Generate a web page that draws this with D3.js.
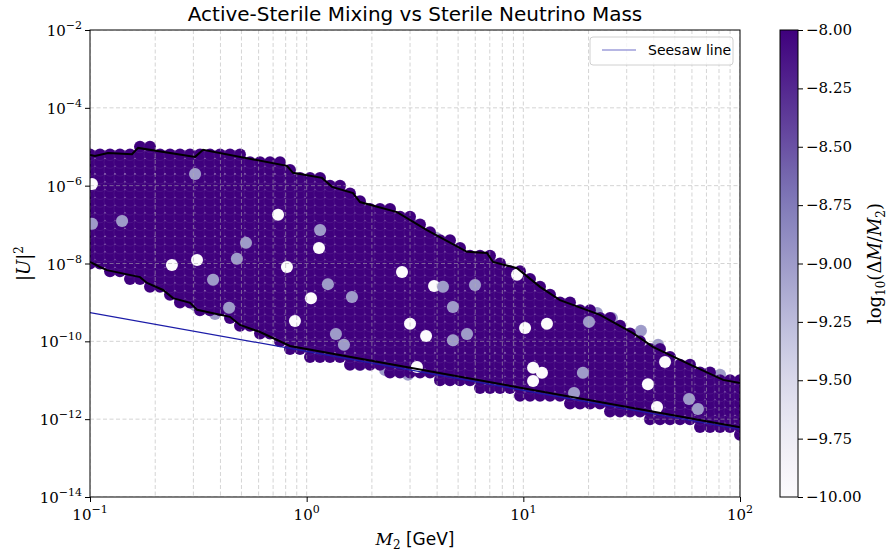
<!DOCTYPE html>
<html>
<head>
<meta charset="utf-8">
<script src="https://cdn.jsdelivr.net/npm/d3@7"></script>
<style>
body { margin: 0; background: #fff; }
</style>
</head>
<body>
<div id="canvas"></div>
<script>
// scan grid of sterile masses (GeV) and log10 |U|^2 rows
const massGrid = [0.1000,0.1112,0.1237,0.1375,0.1530,0.1701,0.1892,0.2104,0.2340,0.2602,
  0.2894,0.3218,0.3579,0.3981,0.4427,0.4924,0.5476,0.6090,0.6772,0.7531,
  0.8376,0.9315,1.0360,1.1521,1.2813,1.4250,1.5849,1.7626,1.9602,2.1800,
  2.4245,2.6963,2.9987,3.3349,3.7089,4.1248,4.5873,5.1017,5.6737,6.3096,
  7.0170,7.8040,8.6790,9.6520,10.734,11.938,13.277,14.765,16.421,18.262,
  20.309,22.587,25.119,27.936,31.067,34.551,38.425,42.733,47.525,52.854,
  58.780,65.370,72.700,80.850,89.910,100.00];
const logU2Grid = [-12.6,-12.4,-12.2,-12.0,-11.8,-11.6,-11.4,-11.2,-11.0,-10.8,
  -10.6,-10.4,-10.2,-10.0,-9.8,-9.6,-9.4,-9.2,-9.0,-8.8,-8.6,-8.4,-8.2,-8.0,
  -7.8,-7.6,-7.4,-7.2,-7.0,-6.8,-6.6,-6.4,-6.2,-6.0,-5.8,-5.6,-5.4,-5.2,-5.0];

// allowed band per mass column (log10 |U|^2)
const bandTop = [-5.21,-5.20,-5.16,-5.17,-5.19,-5.04,-5.07,-5.10,-5.14,-5.19,
  -5.24,-5.15,-5.12,-5.17,-5.21,-5.26,-5.31,-5.36,-5.40,-5.45,
  -5.62,-5.71,-5.75,-5.79,-5.98,-6.07,-6.16,-6.42,-6.49,-6.56,
  -6.63,-6.72,-6.88,-7.03,-7.18,-7.32,-7.46,-7.60,-7.70,-7.72,
  -7.85,-8.02,-8.09,-8.18,-8.39,-8.60,-8.77,-8.94,-9.03,-9.13,
  -9.22,-9.32,-9.46,-9.60,-9.75,-9.91,-10.10,-10.24,-10.37,-10.49,
  -10.60,-10.72,-10.84,-10.96,-11.03,-11.07];
const bandBottom = [-7.96,-8.09,-8.20,-8.27,-8.32,-8.35,-8.53,-8.65,-8.85,-8.94,
  -9.01,-9.21,-9.24,-9.30,-9.37,-9.58,-9.67,-9.76,-9.88,-10.00,
  -10.12,-10.31,-10.35,-10.40,-10.45,-10.49,-10.54,-10.58,-10.63,-10.68,
  -10.72,-10.77,-10.81,-10.86,-10.91,-10.95,-11.00,-11.04,-11.09,-11.14,
  -11.18,-11.23,-11.27,-11.32,-11.37,-11.41,-11.46,-11.50,-11.55,-11.60,
  -11.64,-11.69,-11.73,-11.78,-11.83,-11.87,-11.92,-11.96,-12.01,-12.06,
  -12.10,-12.15,-12.19,-12.24,-12.29,-12.33];
const bulkValue = -8.0;

// off-colour points (log10 M, log10 |U|^2)
const whiteLogM  = [-0.991,-0.132,-0.506,-0.622,-0.091,0.057,0.020,-0.054,0.440,0.588,
  0.477,0.551,1.008,1.109,0.509,1.045,0.971,1.045,1.086,1.575,1.654,1.617];
const whiteLogU2 = [-5.96,-6.75,-7.91,-8.04,-8.09,-7.60,-8.89,-9.48,-8.22,-8.58,
  -9.55,-9.86,-9.66,-9.55,-10.66,-10.68,-8.29,-11.02,-10.81,-11.10,-10.53,-11.69];
const whiteValue = -10.0;
const lavLogM  = [-0.515,-0.852,-0.991,-0.280,-0.322,-0.432,-0.358,0.062,0.098,0.629,
  0.777,0.675,0.209,0.740,0.675,0.135,0.172,1.303,1.275,1.234,1.765,1.806];
const lavLogU2 = [-5.70,-6.91,-6.98,-7.47,-7.88,-8.42,-9.14,-7.14,-8.53,-8.60,
  -8.55,-9.12,-8.86,-9.81,-9.97,-9.81,-10.09,-9.50,-10.81,-11.33,-11.48,-11.74];
const edgeLogM  = [0.085,0.232,0.292,0.486,0.597,1.340,1.409,1.543,1.622,1.908,
  -0.585,-0.515,-0.423,0.246,0.362,0.468,0.615];
const edgeLogU2 = [-6.01,-6.57,-6.62,-6.98,-7.34,-9.27,-9.40,-9.73,-10.09,-10.86,
  -8.94,-9.07,-9.30,-10.61,-10.74,-10.86,-10.94];
const lavValue = -9.0;

// boundary contours and seesaw line (log10)
const upperLogM  = [-1.000,-0.977,-0.917,-0.806,-0.778,-0.515,-0.478,-0.091,-0.063,0.071,
  0.117,0.214,0.246,0.417,0.555,0.740,0.832,0.860,0.971,1.077,1.169,1.354,1.506,1.598,1.755,1.922,2.000];
const upperLogU2 = [-5.21,-5.24,-5.16,-5.19,-5.03,-5.26,-5.08,-5.49,-5.67,-5.80,
  -6.03,-6.19,-6.42,-6.68,-7.14,-7.70,-7.73,-7.96,-8.12,-8.60,-8.94,-9.32,-9.79,-10.14,-10.56,-10.99,-11.07];
const lowerLogM  = [-1.000,-0.954,-0.922,-0.769,-0.737,-0.663,-0.617,-0.538,-0.506,-0.354,-0.308,-0.215,-0.077,2.000];
const lowerLogU2 = [-7.96,-8.09,-8.17,-8.35,-8.50,-8.68,-8.89,-9.01,-9.19,-9.37,-9.58,-9.76,-10.12,-12.21];
const seesawM  = [0.1, 100];
const seesawU2 = [5.5e-10, 5.5e-13];

const yTicks = [1e-2,1e-4,1e-6,1e-8,1e-10,1e-12,1e-14];
const yTickExp = ["−2","−4","−6","−8","−10","−12","−14"];
const xTicks = [0.1,1,10,100];
const xTickExp = ["−1","0","1","2"];
const cbTicks = [-8,-8.25,-8.5,-8.75,-9,-9.25,-9.5,-9.75,-10];
const cbTickLabels = ["−8.00","−8.25","−8.50","−8.75","−9.00","−9.25","−9.50","−9.75","−10.00"];

const width = 891, height = 551;
const margin = {top: 30, left: 90, bottom: 54, right: 151};
const iwidth = width - margin.left - margin.right;
const iheight = height - margin.top - margin.bottom;
const serif = "DejaVu Serif";
const sans = "DejaVu Sans";

const svg = d3.select("#canvas").append("svg")
  .attr("width", width).attr("height", height);

const x = d3.scaleLog().domain([0.1, 100]).range([0, iwidth]);
const y = d3.scaleLog().domain([1e-14, 1e-2]).range([iheight, 0]);
const color = d3.scaleSequential(d3.interpolatePurples).domain([-10, -8]);

svg.append("clipPath").attr("id", "clip")
  .append("rect").attr("width", iwidth).attr("height", iheight);

const graph = svg.append("g").attr("transform", `translate(${margin.left},${margin.top})`);
const plot = graph.append("g").attr("clip-path", "url(#clip)");

// points
const tol = 0.08;
const edgePts = edgeLogM.map((m, i) => ({m: 10 ** m, u: 10 ** edgeLogU2[i], c: lavValue}));
const bulkPts = [];
massGrid.forEach((m, i) => {
  logU2Grid.forEach(r => {
    if (r >= bandBottom[i] - tol && r <= bandTop[i] + tol)
      bulkPts.push({m: m, u: 10 ** r, c: bulkValue});
  });
});
const oddPts = whiteLogM.map((m, i) => ({m: 10 ** m, u: 10 ** whiteLogU2[i], c: whiteValue}))
  .concat(lavLogM.map((m, i) => ({m: 10 ** m, u: 10 ** lavLogU2[i], c: lavValue})));

const allPts = edgePts.concat(bulkPts, oddPts);
plot.selectAll("circle.pt").data(allPts).enter().append("circle")
  .attr("class", "pt")
  .attr("cx", d => x(d.m))
  .attr("cy", d => y(d.u))
  .attr("r", 6)
  .style("fill", d => color(d.c))
  .style("stroke", "rgba(255,255,255,0.12)")
  .style("stroke-width", 0.6);

// grid
const xGrid = [];
[0.1, 1, 10].forEach(d => { for (let k = 1; k < 10; k++) xGrid.push(d * k); });
xGrid.push(100);
plot.selectAll("line.xg").data(xGrid).enter().append("line")
  .attr("x1", d => x(d)).attr("x2", d => x(d))
  .attr("y1", 0).attr("y2", iheight)
  .style("stroke", "#b0b0b0").style("stroke-opacity", 0.55)
  .style("stroke-width", 1).style("stroke-dasharray", "4,2.5");
plot.selectAll("line.yg").data(yTicks).enter().append("line")
  .attr("x1", 0).attr("x2", iwidth)
  .attr("y1", d => y(d)).attr("y2", d => y(d))
  .style("stroke", "#b0b0b0").style("stroke-opacity", 0.55)
  .style("stroke-width", 1).style("stroke-dasharray", "4,2.5");

// contour lines
const line = d3.line().x(d => x(d[0])).y(d => y(d[1]));
plot.append("path")
  .datum(upperLogM.map((m, i) => [10 ** m, 10 ** upperLogU2[i]]))
  .attr("d", line).style("fill", "none").style("stroke", "#000").style("stroke-width", 2);
plot.append("path")
  .datum(lowerLogM.map((m, i) => [10 ** m, 10 ** lowerLogU2[i]]))
  .attr("d", line).style("fill", "none").style("stroke", "#000").style("stroke-width", 2);
plot.append("path")
  .datum(seesawM.map((m, i) => [m, seesawU2[i]]))
  .attr("d", line).style("fill", "none").style("stroke", "#1c1ca8").style("stroke-width", 1.2);

// axes
const xAxis = graph.append("g").attr("transform", `translate(0,${iheight})`)
  .call(d3.axisBottom(x).tickValues(xTicks).tickFormat("").tickSizeOuter(0).tickSize(5));
const yAxis = graph.append("g")
  .call(d3.axisLeft(y).tickValues(yTicks).tickFormat("").tickSizeOuter(0).tickSize(5));
[xAxis, yAxis].forEach(a => {
  a.selectAll("line").style("stroke", "#000").style("stroke-width", 1);
  a.select(".domain").remove();
});
graph.append("rect").attr("width", iwidth).attr("height", iheight)
  .style("fill", "none").style("stroke", "#000").style("stroke-width", 1);

xTicks.forEach((t, i) => {
  const tx = graph.append("text").attr("x", x(t)).attr("y", iheight + 23)
    .attr("text-anchor", "middle").attr("font-family", serif).attr("font-size", 15);
  tx.append("tspan").text("10");
  tx.append("tspan").attr("dy", -7).attr("font-size", 11).text(xTickExp[i]);
});
yTicks.forEach((t, i) => {
  const ty = graph.append("text").attr("x", -8).attr("y", y(t) + 6)
    .attr("text-anchor", "end").attr("font-family", serif).attr("font-size", 15);
  ty.append("tspan").text("10");
  ty.append("tspan").attr("dy", -7).attr("font-size", 11).text(yTickExp[i]);
});

// labels
svg.append("text").attr("x", margin.left + iwidth / 2).attr("y", 21)
  .attr("text-anchor", "middle").attr("font-family", sans).attr("font-size", 20)
  .text("Active-Sterile Mixing vs Sterile Neutrino Mass");
const xl = svg.append("text").attr("x", margin.left + iwidth / 2).attr("y", 545)
  .attr("text-anchor", "middle").attr("font-size", 17);
xl.append("tspan").attr("font-family", serif).attr("font-style", "italic").text("M");
xl.append("tspan").attr("font-family", serif).attr("font-size", 12).attr("dy", 4).text("2");
xl.append("tspan").attr("font-family", sans).attr("dy", -4).text(" [GeV]");
const yl = svg.append("text").attr("transform", `translate(30,${margin.top + iheight / 2}) rotate(-90)`)
  .attr("text-anchor", "middle").attr("font-family", serif).attr("font-size", 18);
yl.append("tspan").text("|");
yl.append("tspan").attr("font-style", "italic").text("U");
yl.append("tspan").text("|");
yl.append("tspan").attr("dy", -7).attr("font-size", 12).text("2");

// legend
const lg = graph.append("g").attr("transform", `translate(${iwidth - 150},7)`);
lg.append("rect").attr("width", 143).attr("height", 28).attr("rx", 3)
  .style("fill", "#fff").style("fill-opacity", 0.8).style("stroke", "#d0d0d0");
lg.append("line").attr("x1", 12).attr("x2", 46).attr("y1", 13).attr("y2", 13)
  .style("stroke", "#6f6fc8").style("stroke-width", 1.2);
lg.append("text").attr("x", 58).attr("y", 18).attr("font-family", sans)
  .attr("font-size", 14).text("Seesaw line");

// colorbar
const cbX = 780, cbW = 18;
const cb = d3.scaleLinear().domain([-10, -8]).range([iheight, 0]);
const grad = svg.append("defs").append("linearGradient").attr("id", "cbgrad")
  .attr("x1", 0).attr("y1", 1).attr("x2", 0).attr("y2", 0);
d3.range(0, 1.0001, 0.05).forEach(t => {
  grad.append("stop").attr("offset", t).attr("stop-color", d3.interpolatePurples(t));
});
const cbg = svg.append("g").attr("transform", `translate(${cbX},${margin.top})`);
cbg.append("rect").attr("width", cbW).attr("height", iheight)
  .style("fill", "url(#cbgrad)").style("stroke", "#000").style("stroke-width", 1);
const cbAxis = cbg.append("g").attr("transform", `translate(${cbW},0)`)
  .call(d3.axisRight(cb).tickValues(cbTicks).tickSize(5).tickSizeOuter(0).tickFormat(""));
cbAxis.select(".domain").remove();
cbAxis.selectAll("line").style("stroke", "#000");
cbTicks.forEach((t, i) => {
  cbg.append("text").attr("x", cbW + 8).attr("y", cb(t) + 5)
    .attr("font-family", serif).attr("font-size", 15).attr("fill", "#000")
    .text(cbTickLabels[i]);
});
const cl = svg.append("text").attr("transform", `translate(881,${margin.top + iheight / 2}) rotate(-90)`)
  .attr("text-anchor", "middle").attr("font-family", serif).attr("font-size", 18);
cl.append("tspan").text("log");
cl.append("tspan").attr("dy", 4).attr("font-size", 12).text("10");
cl.append("tspan").attr("dy", -4).text("(Δ");
cl.append("tspan").attr("font-style", "italic").text("M");
cl.append("tspan").text("/");
cl.append("tspan").attr("font-style", "italic").text("M");
cl.append("tspan").attr("dy", 4).attr("font-size", 12).text("2");
cl.append("tspan").attr("dy", -4).text(")");
</script>
</body>
</html>
